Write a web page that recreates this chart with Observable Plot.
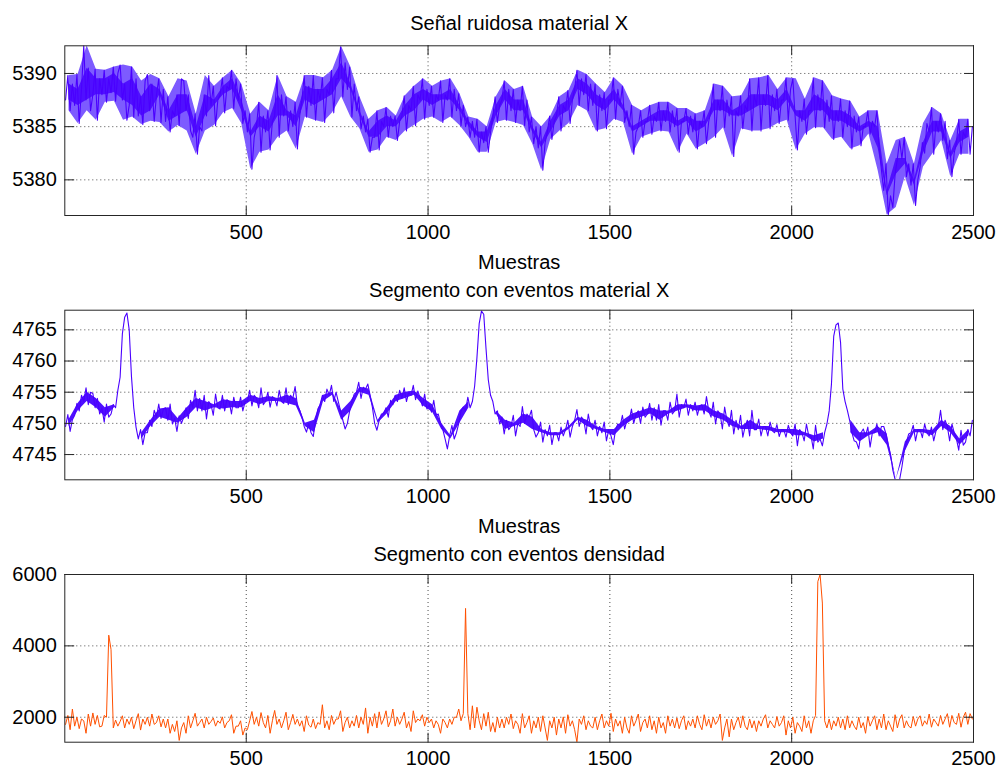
<!DOCTYPE html>
<html>
<head>
<meta charset="utf-8">
<script src="https://cdn.jsdelivr.net/npm/d3@7"></script>
<script src="https://cdn.jsdelivr.net/npm/@observablehq/plot@0.6"></script>
<style>
  body { margin: 0; background: #fff; }
  #figura { width: 998px; height: 772px; overflow: hidden; }
  #figura svg { display: block; }
</style>
</head>
<body>
<div id="figura"></div>
<script>
// Eje de muestras común a los tres paneles
const rangoMuestras = [1, 2500];
const ticksMuestras = [500, 1000, 1500, 2000, 2500];

// Panel 1: señal ruidosa, cuatro lecturas por bloque de 25 muestras (cada 6.25)
const ticksRuido = [5380, 5385, 5390];
const dominioRuido = [5376.65, 5392.6];
const ruidoX = [
  5387.5, 5389.8, 5386.5, 5389.0,  5387.0, 5389.9, 5385.3, 5388.5,  5392.6, 5387.5, 5390.5, 5386.5,  5388.0, 5390.4, 5385.6, 5389.5,
  5388.0, 5390.3, 5387.3, 5389.5,  5388.2, 5390.6, 5387.4, 5390.0,  5390.8, 5387.5, 5389.0, 5385.6,  5387.0, 5390.6, 5385.9, 5389.5,
  5386.0, 5387.8, 5385.2, 5389.3,  5389.9, 5386.5, 5389.0, 5385.5,  5388.0, 5389.5, 5385.4, 5388.5,  5385.5, 5387.8, 5384.5, 5386.5,
  5386.0, 5388.0, 5385.1, 5389.5,  5389.3, 5386.5, 5388.0, 5384.6,  5384.0, 5386.2, 5382.4, 5385.0,  5384.6, 5388.0, 5386.0, 5389.8,
  5387.0, 5388.8, 5385.1, 5387.5,  5388.0, 5389.6, 5386.3, 5388.8,  5388.5, 5390.3, 5386.7, 5389.5,  5387.5, 5389.0, 5385.3, 5386.5,
  5384.5, 5386.2, 5381.0, 5384.0,  5385.0, 5387.3, 5382.6, 5386.0,  5384.5, 5386.5, 5382.8, 5385.5,  5386.0, 5389.8, 5384.0, 5388.0,
  5386.0, 5387.8, 5384.6, 5386.5,  5385.0, 5387.3, 5382.9, 5386.0,  5387.5, 5389.8, 5385.9, 5388.8,  5387.0, 5389.8, 5385.6, 5388.5,
  5387.5, 5389.6, 5385.4, 5388.5,  5388.0, 5390.3, 5386.3, 5389.5,  5389.5, 5392.5, 5387.8, 5391.0,  5388.5, 5390.6, 5385.9, 5389.0,
  5386.5, 5387.8, 5384.8, 5386.0,  5384.5, 5385.7, 5382.6, 5384.0,  5384.0, 5386.5, 5382.8, 5385.5,  5385.0, 5386.8, 5384.0, 5386.0,
  5385.0, 5386.0, 5383.7, 5385.5,  5386.0, 5387.9, 5384.6, 5387.0,  5386.5, 5388.8, 5385.1, 5388.0,  5387.5, 5389.5, 5385.7, 5388.5,
  5387.0, 5388.8, 5385.9, 5388.0,  5387.5, 5389.3, 5385.4, 5388.0,  5387.5, 5389.5, 5385.9, 5388.5,  5386.5, 5388.1, 5385.1, 5387.0,
  5385.0, 5385.9, 5384.0, 5385.5,  5384.0, 5385.7, 5382.6, 5384.5,  5383.5, 5385.0, 5382.6, 5384.5,  5386.0, 5387.8, 5385.4, 5387.0,
  5387.5, 5389.3, 5385.6, 5388.5,  5386.5, 5388.5, 5385.4, 5387.5,  5386.5, 5388.8, 5385.1, 5387.5,  5384.5, 5385.9, 5383.4, 5385.0,
  5383.0, 5385.0, 5380.9, 5383.5,  5384.5, 5386.0, 5383.8, 5385.5,  5386.0, 5387.8, 5384.6, 5387.0,  5386.5, 5388.4, 5385.3, 5387.5,
  5388.5, 5390.3, 5387.0, 5389.5,  5388.0, 5389.9, 5386.5, 5389.0,  5387.0, 5389.0, 5384.6, 5388.0,  5386.5, 5388.2, 5384.8, 5387.5,
  5387.5, 5389.6, 5385.7, 5388.5,  5387.0, 5388.8, 5385.4, 5386.5,  5385.0, 5387.0, 5382.4, 5384.5,  5385.0, 5386.5, 5384.0, 5385.5,
  5385.5, 5387.0, 5384.3, 5386.0,  5385.5, 5387.3, 5384.6, 5386.5,  5385.5, 5387.3, 5384.5, 5386.5,  5385.0, 5386.7, 5382.6, 5385.5,
  5385.5, 5386.7, 5384.3, 5386.0,  5384.5, 5386.2, 5382.9, 5385.5,  5385.0, 5386.5, 5383.4, 5385.5,  5386.5, 5389.0, 5384.0, 5387.5,
  5386.5, 5388.8, 5384.9, 5387.5,  5386.0, 5387.8, 5382.2, 5386.5,  5386.0, 5387.9, 5384.8, 5387.0,  5386.5, 5389.5, 5384.6, 5388.0,
  5387.0, 5389.6, 5384.6, 5388.0,  5387.0, 5389.8, 5384.8, 5388.0,  5386.5, 5388.5, 5385.3, 5387.5,  5387.5, 5389.6, 5385.6, 5388.5,
  5389.5, 5386.0, 5382.8, 5386.5,  5385.5, 5387.6, 5384.3, 5386.5,  5386.5, 5389.6, 5384.9, 5388.0,  5386.5, 5389.3, 5384.9, 5387.5,
  5385.5, 5387.9, 5383.8, 5386.5,  5385.5, 5387.6, 5384.0, 5386.5,  5385.0, 5387.4, 5382.9, 5386.0,  5384.5, 5385.9, 5383.2, 5385.0,
  5385.0, 5386.5, 5384.3, 5385.5,  5385.0, 5386.5, 5383.0, 5380.9,  5379.0, 5381.5, 5376.7, 5378.5,  5377.4, 5380.5, 5382.0, 5383.7,
  5382.0, 5384.0, 5380.3, 5381.5,  5379.5, 5381.5, 5377.6, 5380.0,  5381.2, 5383.5, 5382.5, 5385.3,  5384.5, 5386.8, 5382.4, 5385.5,
  5384.5, 5386.2, 5383.7, 5385.5,  5382.0, 5383.7, 5380.3, 5382.5,  5383.5, 5385.7, 5382.4, 5384.5,  5384.0, 5385.7, 5382.4, 5385.0
];

// Panel 2: segmento con eventos, cuatro lecturas por bloque de 25 muestras
const ticksEventos = [4745, 4750, 4755, 4760, 4765];
const dominioEventos = [4740.95, 4768.15];
const eventosX = [
  4749.5, 4751.4, 4748.7, 4750.6,  4751.3, 4753.2, 4752.0, 4754.5,  4753.5, 4755.7, 4753.0, 4755.0,  4754.8, 4752.5, 4754.0, 4751.5,
  4752.5, 4750.2, 4753.1, 4751.0,  4751.5, 4753.0, 4752.5, 4755.3,  4757.4, 4764.4, 4767.0, 4767.7,  4765.0, 4757.5, 4752.5, 4749.4,
  4747.5, 4749.0, 4746.6, 4748.5,  4748.5, 4750.5, 4749.5, 4752.1,  4751.0, 4753.1, 4750.8, 4752.3,  4752.5, 4750.5, 4753.1, 4749.9,
  4750.8, 4748.7, 4751.2, 4750.0,  4751.0, 4752.5, 4750.8, 4753.7,  4752.5, 4755.3, 4752.0, 4754.0,  4752.0, 4754.5, 4750.7, 4753.5,
  4753.0, 4751.3, 4754.7, 4752.5,  4752.3, 4754.5, 4752.0, 4753.8,  4753.5, 4751.5, 4754.2, 4752.5,  4752.5, 4754.2, 4752.0, 4753.5,
  4753.5, 4755.3, 4752.8, 4754.5,  4754.0, 4752.5, 4755.7, 4753.0,  4753.5, 4755.0, 4752.6, 4754.3,  4754.0, 4752.8, 4755.3, 4753.5,
  4753.2, 4755.7, 4753.0, 4754.5,  4754.0, 4755.9, 4752.8, 4752.1,  4751.0, 4749.5, 4748.6, 4750.0,  4748.5, 4747.9, 4750.5, 4752.3,
  4753.0, 4754.5, 4753.5, 4755.5,  4754.5, 4756.1, 4753.5, 4755.0,  4753.5, 4752.0, 4750.5, 4749.1,  4750.0, 4752.0, 4753.5, 4754.7,
  4755.0, 4756.6, 4754.0, 4755.8,  4755.5, 4756.3, 4754.5, 4752.6,  4750.0, 4748.9, 4750.5, 4751.5,  4751.5, 4752.5, 4751.0, 4753.7,
  4753.0, 4754.5, 4753.5, 4755.3,  4754.0, 4755.7, 4753.5, 4755.0,  4754.5, 4756.1, 4753.8, 4755.2,  4754.0, 4752.8, 4754.7, 4752.3,
  4753.0, 4751.8, 4753.7, 4751.3,  4751.5, 4750.0, 4749.0, 4747.5,  4745.9, 4748.0, 4749.7, 4747.5,  4748.5, 4750.0, 4752.0, 4752.6,
  4752.0, 4754.2, 4752.5, 4753.5,  4756.0, 4760.5, 4766.0, 4768.0,  4767.5, 4762.0, 4757.0, 4754.5,  4753.5, 4751.5, 4752.0, 4749.9,
  4751.0, 4748.3, 4750.5, 4749.0,  4749.5, 4751.3, 4748.0, 4750.0,  4749.5, 4752.7, 4750.0, 4751.5,  4751.0, 4752.1, 4749.0, 4747.8,
  4748.5, 4750.2, 4747.0, 4749.0,  4748.0, 4749.7, 4746.6, 4748.5,  4748.5, 4747.2, 4749.4, 4748.0,  4749.0, 4750.5, 4747.8, 4749.5,
  4750.5, 4752.2, 4749.5, 4751.0,  4750.5, 4748.3, 4751.5, 4749.5,  4749.0, 4750.5, 4748.0, 4749.5,  4748.5, 4750.2, 4747.2, 4749.0,
  4748.0, 4746.6, 4749.0, 4749.9,  4749.5, 4751.3, 4749.1, 4750.5,  4750.5, 4752.3, 4750.0, 4751.5,  4752.0, 4750.0, 4752.6, 4751.0,
  4751.5, 4753.2, 4750.5, 4752.5,  4750.5, 4753.0, 4749.7, 4752.0,  4752.0, 4750.5, 4753.4, 4751.5,  4752.0, 4754.7, 4751.0, 4753.0,
  4752.5, 4753.9, 4751.3, 4753.0,  4752.0, 4753.4, 4751.3, 4752.8,  4753.0, 4751.5, 4754.3, 4752.0,  4751.0, 4753.4, 4749.9, 4752.0,
  4751.5, 4749.1, 4752.6, 4750.5,  4749.5, 4752.1, 4748.3, 4750.5,  4749.0, 4751.3, 4747.8, 4749.5,  4750.5, 4748.0, 4752.1, 4749.0,
  4749.0, 4750.7, 4748.0, 4749.5,  4749.5, 4748.0, 4750.2, 4748.8,  4748.5, 4749.8, 4747.9, 4749.0,  4749.0, 4747.8, 4749.7, 4748.5,
  4748.0, 4749.9, 4746.4, 4749.0,  4748.5, 4747.2, 4749.9, 4748.0,  4748.0, 4745.9, 4749.7, 4747.0,  4747.5, 4746.4, 4748.5, 4749.9,
  4752.0, 4756.3, 4764.0, 4765.8,  4766.1, 4763.0, 4755.5, 4753.5,  4752.1, 4750.5, 4748.5, 4747.2,  4747.0, 4745.9, 4748.5, 4749.1,
  4748.0, 4749.4, 4746.2, 4748.5,  4748.5, 4749.9, 4748.0, 4749.5,  4749.5, 4748.3, 4746.5, 4745.0,  4742.5, 4741.0, 4740.9, 4741.0,
  4743.0, 4745.5, 4747.0, 4748.3,  4748.5, 4749.7, 4747.2, 4749.0,  4749.0, 4747.7, 4749.9, 4748.5,  4748.0, 4749.4, 4747.2, 4748.8,
  4749.5, 4752.1, 4749.0, 4750.5,  4749.5, 4747.2, 4749.9, 4748.5,  4747.5, 4745.7, 4748.9, 4746.5,  4747.0, 4749.0, 4748.0, 4750.5
];

// Panel 3: densidad, cuatro lecturas por bloque de 25 muestras
const ticksDensidad = [2000, 4000, 6000];
const dominioDensidad = [1300, 6000];
const densidad = [
  1800, 2050, 1650, 2230, 1750, 2000, 1680, 1950, 1900, 1550, 2090, 1750, 2120, 1800, 2050, 1730,
  1750, 2050, 2000, 4300, 3900, 1700, 1920, 1750, 1880, 2040, 1700, 1950, 1800, 2000, 1680, 1900,
  2100, 1640, 1950, 1800, 2000, 1750, 2090, 1800, 1850, 2040, 1730, 1950, 1700, 1950, 1550, 1800,
  1600, 1900, 1350, 1700, 1850, 1550, 2040, 1700, 1900, 2110, 1750, 1850, 1950, 1700, 2000, 1800,
  1880, 1980, 1750, 1900, 1830, 2010, 1700, 1850, 1900, 2070, 1550, 1750, 1750, 1900, 1500, 1700,
  1650, 1900, 2160, 1800, 2000, 1750, 2130, 1850, 1700, 2050, 1550, 1900, 2190, 1800, 1950, 1700,
  1900, 2140, 1650, 1850, 2080, 1800, 1950, 1750, 1900, 1600, 2040, 1780, 1720, 1950, 1680, 1850,
  1800, 2350, 1700, 1900, 1650, 2050, 1800, 1950, 1950, 2180, 1600, 1850, 2000, 1700, 1900, 1750,
  2050, 1700, 2000, 1800, 2260, 1550, 2000, 1750, 2100, 1700, 2150, 1800, 1950, 2180, 1730, 1900,
  2230, 1750, 2000, 1800, 1950, 2140, 1700, 1880, 1600, 2180, 1850, 1950, 1900, 2070, 1750, 2000,
  1850, 1950, 1700, 1900, 1800, 1550, 1950, 1850, 1700, 1950, 1800, 2000, 2000, 2230, 1900, 2100,
  5050, 2100, 1650, 2320, 1700, 2280, 1900, 1650, 2100, 1750, 2140, 1600, 1850, 1580, 2000, 1700,
  1950, 1700, 2000, 1800, 2090, 1680, 1900, 1800, 1550, 2100, 1700, 1850, 2040, 1550, 1900, 1700,
  2000, 1600, 2040, 1700, 1350, 1900, 1700, 2000, 1500, 1950, 1700, 2010, 1550, 2070, 1750, 1900,
  1650, 1300, 1950, 1800, 2040, 1650, 1900, 1750, 1700, 2000, 1650, 1900, 2090, 1700, 1900, 1750,
  2110, 1600, 1950, 1750, 1900, 1550, 2000, 1700, 1550, 2040, 1750, 1900, 2090, 1600, 1850, 1950,
  1700, 2040, 1650, 1900, 1550, 2000, 1700, 1850, 1550, 2040, 1750, 1950, 1700, 1980, 1680, 1900,
  2040, 1650, 1900, 1750, 1950, 1700, 2040, 1800, 1650, 2070, 1750, 1950, 1700, 2000, 1800, 1900,
  2090, 1350, 1700, 1950, 1450, 1950, 1650, 1850, 2000, 1700, 2040, 1750, 1650, 1950, 1700, 1900,
  1600, 1900, 1750, 1950, 2070, 1700, 1900, 1800, 1700, 2020, 1750, 1850, 2040, 1500, 1900, 1700,
  2000, 1550, 1850, 1750, 1600, 2040, 1700, 1900, 1550, 1900, 2050, 5800, 6000, 5200, 1900, 1700,
  1950, 1650, 1900, 1750, 2000, 1700, 1950, 1650, 2040, 1700, 1900, 1750, 1650, 2000, 1700, 1850,
  1550, 2020, 1750, 1900, 2040, 1650, 1950, 1700, 2090, 1650, 1900, 1750, 1600, 2070, 1700, 1950,
  2070, 1700, 1900, 1750, 1700, 2020, 1750, 1950, 2040, 1750, 1900, 1800, 2090, 1720, 1950, 1850,
  1750, 2050, 1800, 1950, 2100, 1720, 2050, 1850, 1800, 2110, 1720, 2000, 2140, 1800, 2100, 1950
];

const titulos = ["Señal ruidosa material X", "Segmento con eventos material X", "Segmento con eventos densidad"];
const etiquetaX = "Muestras";

// Estilo
const fuente = "'Liberation Sans', Arial, Helvetica, sans-serif";
const violeta = "#4a00ff";
const violetaNucleo = "#4f10ff";
const violetaClaro = "#7d5bff";
const naranja = "#ff5000";
const colorMarco = "#262626";

// Cada lectura se sitúa en el centro de su tramo de 6.25 muestras
const aPuntos = (serie) => serie.map((y, i) => ({x: 6.25 * i + 3.125, y}));

// Por bloque de cuatro lecturas: envolvente (extremos) y núcleo del ruido (lecturas intermedias).
// El núcleo sólo se rellena donde el bloque es ruido y no un evento (rango pequeño).
function bloques(serie, rangoRuido) {
  return d3.range(serie.length / 4).map((k) => {
    const b = serie.slice(4 * k, 4 * k + 4).sort(d3.ascending);
    const ruido = b[3] - b[0] <= rangoRuido;
    return {x: 25 * k + 12.5, lo: b[0], hi: b[3], nlo: ruido ? b[1] : NaN, nhi: ruido ? b[2] : NaN};
  });
}

function senalVioleta(serie, {envolvente, rangoRuido}) {
  const b = bloques(serie, rangoRuido);
  return [
    envolvente ? Plot.areaY(b, {x: "x", y1: "lo", y2: "hi", fill: violetaClaro, clip: true}) : null,
    Plot.areaY(b, {x: "x", y1: "nlo", y2: "nhi", fill: violetaNucleo, clip: true}),
    Plot.line(aPuntos(serie), {x: "x", y: "y", stroke: violeta, strokeWidth: 1.1, clip: true})
  ];
}

// Marcas de graduación hacia dentro en los cuatro lados
const rayita = {draw(ctx, l) { ctx.moveTo(0, 0); ctx.lineTo(0, -l); }};
function graduaciones(ticksY) {
  const base = {length: 9, anchor: "start", shape: rayita, stroke: colorMarco, strokeWidth: 1};
  return [
    Plot.vector(ticksMuestras, {...base, x: d => d, frameAnchor: "bottom", rotate: 0}),
    Plot.vector(ticksMuestras, {...base, x: d => d, frameAnchor: "top", rotate: 180}),
    Plot.vector(ticksY, {...base, y: d => d, frameAnchor: "left", rotate: 90}),
    Plot.vector(ticksY, {...base, y: d => d, frameAnchor: "right", rotate: -90})
  ];
}

function panel({titulo, alto, arriba, abajo, dyTitulo, dominioY, ticksY, marcas, conEtiqueta}) {
  const rejilla = {stroke: "#000", strokeOpacity: 0.7, strokeDasharray: "1,3", strokeWidth: 1};
  const texto = {fontSize: 20, fill: "#000", lineAnchor: "middle"};
  return Plot.plot({
    width: 998,
    height: alto,
    marginLeft: 64.3,
    marginRight: 25,
    marginTop: arriba,
    marginBottom: abajo,
    style: {fontFamily: fuente, fontSize: "20px", color: "#000", background: "#fff", overflow: "visible"},
    x: {domain: rangoMuestras},
    y: {domain: dominioY},
    marks: [
      Plot.gridX(ticksMuestras, rejilla),
      Plot.gridY(ticksY, rejilla),
      ...marcas,
      Plot.frame({stroke: colorMarco, strokeWidth: 1}),
      ...graduaciones(ticksY),
      Plot.axisX(ticksMuestras, {tickSize: 0, tickPadding: 9, tickFormat: "d", label: null}),
      Plot.axisY(ticksY, {tickSize: 0, tickPadding: 8, tickFormat: "d", label: null}),
      Plot.text([titulo], {...texto, frameAnchor: "top", dy: dyTitulo}),
      conEtiqueta ? Plot.text([etiquetaX], {...texto, frameAnchor: "bottom", dy: 47}) : null
    ]
  });
}

const figura = document.getElementById("figura");

figura.append(panel({
  titulo: titulos[0], alto: 270, arriba: 45.3, abajo: 55, dyTitulo: -21.8,
  dominioY: dominioRuido, ticksY: ticksRuido, conEtiqueta: true,
  marcas: senalVioleta(ruidoX, {envolvente: true, rangoRuido: Infinity})
}));

figura.append(panel({
  titulo: titulos[1], alto: 265, arriba: 39.7, abajo: 55.7, dyTitulo: -19.5,
  dominioY: dominioEventos, ticksY: ticksEventos, conEtiqueta: true,
  marcas: senalVioleta(eventosX, {envolvente: false, rangoRuido: 8})
}));

figura.append(panel({
  titulo: titulos[2], alto: 237, arriba: 39, abajo: 30.3, dyTitulo: -20,
  dominioY: dominioDensidad, ticksY: ticksDensidad, conEtiqueta: false,
  marcas: [
    Plot.line(aPuntos(densidad), {x: "x", y: "y", stroke: naranja, strokeWidth: 1, clip: true})
  ]
}));
</script>
</body>
</html>
